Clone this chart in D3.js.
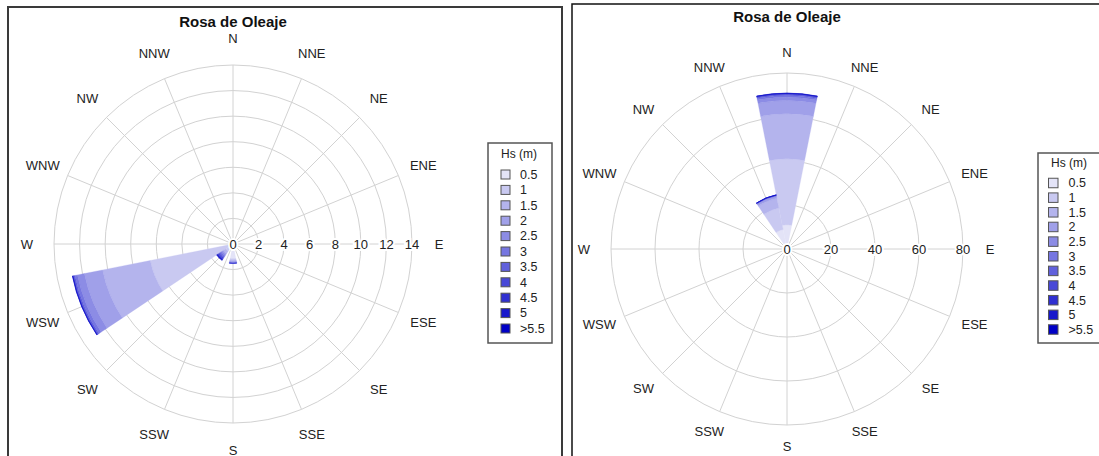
<!DOCTYPE html>
<html>
<head>
<meta charset="utf-8">
<script src="https://cdn.jsdelivr.net/npm/d3@7"></script>
<style>
    body { margin: 0; background: #fff; }
    svg { display: block; font-family: "Liberation Sans", Arial, sans-serif; }
</style>
</head>
<body>
<svg id="chart" width="1099" height="456"></svg>
<script>
'use strict';

/*
    two wave roses (Rosa de Oleaje), frequency (%) per direction and Hs class
*/

var directions = ["N", "NNE", "NE", "ENE", "E", "ESE", "SE", "SSE",
                  "S", "SSW", "SW", "WSW", "W", "WNW", "NW", "NNW"];
var hsLabels = ["0.5", "1", "1.5", "2", "2.5", "3", "3.5", "4", "4.5", "5", ">5.5"];
var hsColors = ["#E3E3F7", "#C9C9F1", "#B4B4ED", "#A0A0E9", "#8C8CE5", "#7676E1",
                "#6060DC", "#4848D7", "#3030D1", "#1818CB", "#0000C6"];

// left rose, one value per Hs class
var leftWSW = [0.3, 6.3, 3.8, 1.45, 0.55, 0.2, 0.1, 0.05, 0.03, 0.02, 0.01];
var leftSW = [0.3, 0.4, 0.2, 0.1, 0.1, 0.1, 0.1, 0.1, 0.05, 0.05, 0.05];
var leftS = [1.15, 0.12, 0.08, 0.06, 0.05, 0.03, 0.02, 0.01, 0.01, 0, 0];
var leftTicks = [0, 2, 4, 6, 8, 10, 12, 14];

// right rose
var rightN = [11, 30, 20.5, 6, 1.5, 0.8, 0.4, 0.3, 0.2, 0.1, 0.1];
var rightNNW = [9, 10, 4.5, 0.8, 0.3, 0.2, 0.1, 0.1, 0.05, 0.03, 0.02];
var rightTicks = [0, 20, 40, 60, 80];

var svg = d3.select('#chart');

var drawRose = function(cfg) {
    var g = svg.append('g');

    g.append('rect')
        .attr('x', cfg.panel[0]).attr('y', cfg.panel[1])
        .attr('width', cfg.panel[2]).attr('height', cfg.panel[3])
        .attr('fill', '#fff')
        .attr('stroke', cfg.border)
        .attr('stroke-width', cfg.borderWidth);

    g.append('text')
        .attr('x', cfg.cx).attr('y', cfg.titleY)
        .attr('text-anchor', 'middle')
        .attr('font-size', 15).attr('font-weight', 'bold')
        .attr('fill', '#111')
        .text('Rosa de Oleaje');

    var maxTick = d3.max(cfg.ticks);
    var r = d3.scaleLinear().domain([0, maxTick]).range([0, cfg.R]);
    var angle = d3.scaleBand().domain(directions).range([0, 2 * Math.PI]);
    var half = angle.bandwidth() / 2;

    var rose = g.append('g').attr('transform', 'translate(' + cfg.cx + ',' + cfg.cy + ')');

    /* grid */
    rose.selectAll('circle.grid')
        .data(cfg.ticks.filter(function(t) { return t > 0; }))
        .enter().append('circle')
        .attr('r', function(d) { return r(d); })
        .attr('fill', 'none')
        .attr('stroke', '#d2d2d2');

    rose.selectAll('line.spoke')
        .data(directions)
        .enter().append('line')
        .attr('x2', function(d) { return cfg.R * Math.sin(angle(d)); })
        .attr('y2', function(d) { return -cfg.R * Math.cos(angle(d)); })
        .attr('stroke', '#d2d2d2');

    /* stacked bars */
    var arc = d3.arc();
    Object.keys(cfg.data).forEach(function(dir) {
        var vals = cfg.data[dir];
        var a = angle(dir);
        var cum = 0;
        vals.forEach(function(v, i) {
            if (v <= 0) return;
            rose.append('path')
                .attr('d', arc({
                    innerRadius: r(cum),
                    outerRadius: r(cum + v),
                    startAngle: a - half,
                    endAngle: a + half
                }))
                .attr('fill', hsColors[i])
                .attr('stroke', hsColors[i])
                .attr('stroke-width', 0.3);
            cum += v;
        });
    });

    /* radial tick labels along the E axis */
    rose.selectAll('text.tick')
        .data(cfg.ticks)
        .enter().append('text')
        .attr('x', function(d) { return r(d); })
        .attr('y', 0)
        .attr('dy', '0.35em')
        .attr('text-anchor', 'middle')
        .attr('font-size', 13)
        .attr('fill', '#222')
        .attr('stroke', '#fff')
        .attr('stroke-width', 4)
        .attr('paint-order', 'stroke')
        .text(function(d) { return d; });

    /* compass labels */
    rose.selectAll('text.dir')
        .data(directions)
        .enter().append('text')
        .attr('x', function(d) { return cfg.labelRx * Math.sin(angle(d)); })
        .attr('y', function(d) { return -cfg.labelRy * Math.cos(angle(d)); })
        .attr('dy', '0.35em')
        .attr('text-anchor', 'middle')
        .attr('font-size', 13)
        .attr('fill', '#222')
        .text(function(d) { return d; });

    /* legend */
    var lg = cfg.legend;
    g.append('rect')
        .attr('x', lg.x).attr('y', lg.y)
        .attr('width', lg.w).attr('height', lg.h)
        .attr('fill', '#fff')
        .attr('stroke', '#555')
        .attr('stroke-width', 1.5);

    g.append('text')
        .attr('x', lg.x + lg.w / 2 - 1).attr('y', lg.titleY)
        .attr('dy', '0.35em')
        .attr('text-anchor', 'middle')
        .attr('font-size', 12)
        .attr('fill', '#222')
        .text('Hs (m)');

    var items = g.selectAll('g.item')
        .data(hsLabels)
        .enter().append('g')
        .attr('transform', function(d, i) {
            return 'translate(' + lg.boxX + ',' + (lg.firstY + i * lg.step) + ')';
        });

    items.append('rect')
        .attr('x', 0).attr('y', -lg.box / 2)
        .attr('width', lg.box).attr('height', lg.box)
        .attr('fill', function(d, i) { return hsColors[i]; })
        .attr('stroke', '#555')
        .attr('stroke-width', 1);

    items.append('text')
        .attr('x', lg.textX)
        .attr('dy', '0.35em')
        .attr('font-size', 12.5)
        .attr('fill', '#222')
        .text(function(d) { return d; });
};

drawRose({
    panel: [8, 7, 554, 470],
    border: '#3a3a3a',
    borderWidth: 2,
    cx: 233, cy: 244, R: 179,
    titleY: 27,
    labelRx: 206, labelRy: 206,
    ticks: leftTicks,
    data: { WSW: leftWSW, SW: leftSW, S: leftS },
    legend: { x: 488, y: 143, w: 64, h: 200, titleY: 154,
              boxX: 501, firstY: 174.5, step: 15.4, box: 9, textX: 19 }
});

drawRose({
    panel: [572, 4, 555, 470],
    border: '#111',
    borderWidth: 1.5,
    cx: 787, cy: 249, R: 176,
    titleY: 22,
    labelRx: 203, labelRy: 197,
    ticks: rightTicks,
    data: { N: rightN, NNW: rightNNW },
    legend: { x: 1038, y: 153, w: 64, h: 190, titleY: 163,
              boxX: 1048.5, firstY: 183, step: 14.65, box: 9.5, textX: 20 }
});
</script>
</body>
</html>
